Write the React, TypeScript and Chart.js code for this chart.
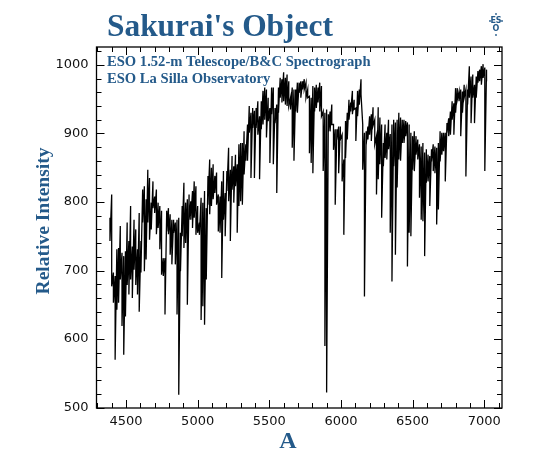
import { useEffect, useRef } from "react"
import Chart from "chart.js/auto"

const wavelengths = [
  4388, 4400, 4412, 4424, 4436, 4448, 4460, 4472, 4484, 4496, 4508, 4520, 4532, 4544, 4556, 4568, 4580, 4592, 4604, 4616,
  4628, 4640, 4652, 4664, 4676, 4688, 4700, 4712, 4724, 4736, 4748, 4760, 4772, 4784, 4796, 4808, 4820, 4832,
  4844, 4856, 4868, 4880, 4892, 4904, 4916, 4928, 4940, 4952, 4964, 4976, 4988, 5000, 5012, 5024, 5036, 5048, 5060, 5072,
  5084, 5096, 5108, 5120, 5132, 5144, 5156, 5168, 5180, 5192, 5204, 5216, 5228, 5240, 5252, 5264, 5276, 5288,
  5300, 5312, 5324, 5336, 5348, 5360, 5372, 5384, 5396, 5408, 5420, 5432, 5444, 5456, 5468, 5480, 5492, 5504, 5516, 5528,
  5540, 5552, 5564, 5576, 5588, 5600, 5612, 5624, 5636, 5648, 5660, 5672, 5684, 5696, 5708, 5720, 5732, 5744,
  5756, 5768, 5780, 5792, 5804, 5816, 5828, 5840, 5852, 5864, 5876, 5888, 5900, 5912, 5924, 5936, 5948, 5960, 5972, 5984,
  5996, 6008, 6020, 6032, 6044, 6056, 6068, 6080, 6092, 6104, 6116, 6128, 6140, 6152, 6164, 6176, 6188, 6200,
  6212, 6224, 6236, 6248, 6260, 6272, 6284, 6296, 6308, 6320, 6332, 6344, 6356, 6368, 6380, 6392, 6404, 6416, 6428, 6440,
  6452, 6464, 6476, 6488, 6500, 6512, 6524, 6536, 6548, 6560, 6572, 6584, 6596, 6608, 6620, 6632, 6644, 6656,
  6668, 6680, 6692, 6704, 6716, 6728, 6740, 6752, 6764, 6776, 6788, 6800, 6812, 6824, 6836, 6848, 6860, 6872, 6884, 6896,
  6908, 6920, 6932, 6944, 6956, 6968, 6980, 6992, 7004, 7016,
]

const upper = [
  777, 811, 697, 692, 731, 733, 765, 726, 721, 728, 770, 743, 794, 735, 774, 760, 731, 784, 743, 818,
  823, 804, 847, 835, 799, 830, 808, 818, 799, 794, 787, 718, 718, 787, 791, 782, 774, 774,
  770, 774, 777, 755, 794, 828, 799, 804, 811, 801, 816, 830, 823, 794, 770, 806, 799, 816, 791, 838,
  862, 850, 855, 838, 843, 811, 808, 830, 845, 813, 845, 879, 847, 867, 852, 869, 855, 884,
  886, 886, 903, 884, 913, 940, 930, 937, 933, 937, 947, 925, 947, 962, 967, 964, 952, 937, 967, 967,
  937, 942, 967, 981, 979, 989, 981, 986, 976, 952, 967, 964, 964, 974, 974, 976, 976, 979,
  974, 964, 954, 952, 969, 967, 971, 967, 974, 969, 932, 930, 935, 928, 932, 942, 913, 906, 906, 910,
  910, 898, 862, 918, 930, 949, 945, 962, 949, 937, 962, 964, 979, 913, 901, 903, 910, 925,
  928, 938, 920, 896, 938, 923, 913, 886, 913, 901, 920, 899, 913, 920, 916, 920, 930, 923, 920, 920,
  918, 916, 913, 901, 896, 903, 896, 891, 884, 881, 886, 872, 877, 869, 867, 877, 884, 881,
  879, 886, 903, 901, 901, 901, 915, 922, 932, 947, 944, 966, 966, 961, 964, 961, 971, 964, 964, 998,
  983, 986, 971, 983, 991, 993, 998, 1001, 996, 993,
]

const lower = [
  743, 677, 653, 570, 643, 653, 687, 619, 577, 633, 679, 665, 687, 660, 701, 679, 665, 640, 697, 770,
  699, 716, 770, 745, 760, 791, 784, 753, 762, 731, 694, 692, 636, 757, 753, 723, 709, 755,
  709, 636, 519, 699, 750, 733, 740, 650, 774, 774, 762, 777, 752, 755, 752, 628, 648, 621, 687, 796,
  782, 794, 804, 813, 796, 757, 755, 689, 774, 750, 816, 801, 743, 818, 799, 823, 755, 794,
  801, 796, 840, 860, 860, 901, 835, 908, 835, 908, 898, 833, 906, 913, 920, 894, 918, 857, 928, 855,
  915, 813, 930, 952, 945, 947, 942, 940, 940, 935, 879, 860, 932, 930, 959, 952, 964, 964,
  952, 952, 871, 857, 842, 932, 937, 945, 932, 925, 845, 590, 522, 903, 903, 913, 876, 796, 891, 842,
  891, 830, 752, 864, 891, 920, 932, 928, 935, 889, 925, 942, 957, 847, 662, 884, 891, 898,
  889, 911, 884, 811, 833, 855, 777, 852, 864, 862, 877, 755, 684, 852, 723, 821, 862, 860, 886, 886,
  896, 706, 755, 750, 847, 845, 869, 862, 806, 774, 772, 721, 828, 830, 794, 859, 845, 842,
  767, 789, 859, 869, 874, 830, 901, 896, 898, 920, 898, 930, 949, 947, 896, 930, 952, 837, 942, 952,
  915, 952, 915, 952, 974, 976, 971, 981, 845, 976,
]

const xMajorTicks = [4500, 5000, 5500, 6000, 6500, 7000]
const xMinorTicks = [
  4300, 4400, 4600, 4700, 4800, 4900, 5100, 5200, 5300, 5400, 5600, 5700, 5800, 5900,
  6100, 6200, 6300, 6400, 6600, 6700, 6800, 6900, 7100,
]
const yMajorTicks = [500, 600, 700, 800, 900, 1000]
const yMinorTicks = [
  520, 540, 560, 580, 620, 640, 660, 680, 720, 740, 760, 780, 820, 840, 860, 880,
  920, 940, 960, 980, 1020,
]

const BLUE = "#245a8a"
const SERIF = '"Liberation Serif", serif'

const spectrum = wavelengths.flatMap((w, i) => [
  { x: w, y: upper[i] },
  { x: w, y: lower[i] },
])

const framePlugin = {
  id: "frame",
  afterDraw(chart: any) {
    const { ctx, chartArea: a, scales } = chart
    ctx.save()
    ctx.strokeStyle = "#000"
    ctx.lineWidth = 1
    ctx.beginPath()
    const xTick = (v: number, len: number) => {
      const px = Math.round(scales.x.getPixelForValue(v)) + 0.5
      ctx.moveTo(px, a.bottom)
      ctx.lineTo(px, a.bottom - len)
      ctx.moveTo(px, a.top)
      ctx.lineTo(px, a.top + len)
    }
    const yTick = (v: number, len: number) => {
      const py = Math.round(scales.y.getPixelForValue(v)) + 0.5
      ctx.moveTo(a.left, py)
      ctx.lineTo(a.left + len, py)
      ctx.moveTo(a.right, py)
      ctx.lineTo(a.right - len, py)
    }
    xMajorTicks.forEach((v) => xTick(v, 8))
    xMinorTicks.forEach((v) => xTick(v, 5))
    yMajorTicks.forEach((v) => yTick(v, 8))
    yMinorTicks.forEach((v) => yTick(v, 5))
    ctx.stroke()
    ctx.lineWidth = 1.3
    ctx.strokeRect(a.left, a.top, a.right - a.left, a.bottom - a.top)

    ctx.fillStyle = BLUE
    ctx.textBaseline = "alphabetic"
    ctx.textAlign = "left"
    ctx.font = `bold 31.4px ${SERIF}`
    ctx.fillText("Sakurai's Object", 107, 36)
    ctx.font = `bold 14.6px ${SERIF}`
    ctx.fillText("ESO 1.52-m Telescope/B&C Spectrograph", 107, 66)
    ctx.fillText("ESO La Silla Observatory", 107, 83)

    ctx.textAlign = "center"
    ctx.font = `bold 24px ${SERIF}`
    ctx.fillText("A", 288, 448)
    ctx.save()
    ctx.translate(49, 221)
    ctx.rotate(-Math.PI / 2)
    ctx.font = `bold 19.5px ${SERIF}`
    ctx.fillText("Relative Intensity", 0, 0)
    ctx.restore()

    // ESO emblem, top right
    ctx.font = "bold 8px \"DejaVu Sans\""
    ctx.fillText("ES", 496, 23)
    ctx.fillText("O", 496, 31)
    ;[[490, 21], [502, 21], [496, 14], [496, 35]].forEach(([dx, dy]) => {
      ctx.beginPath()
      ctx.arc(dx, dy, 0.9, 0, Math.PI * 2)
      ctx.fill()
    })
    ctx.restore()
  },
}

export default function App() {
  const canvasRef = useRef<HTMLCanvasElement>(null)

  useEffect(() => {
    if (!canvasRef.current) return

    const tickFont = { family: '"DejaVu Sans"', size: 13, weight: "400" }

    const chart = new Chart(canvasRef.current, {
      type: "line",
      data: {
        datasets: [
          {
            data: spectrum,
            borderColor: "#000",
            borderWidth: 1.3,
            pointRadius: 0,
            tension: 0,
          },
        ],
      },
      options: {
        responsive: false,
        animation: false,
        layout: { padding: { top: 47, right: 50, left: 0, bottom: 0 } },
        plugins: {
          legend: { display: false },
          tooltip: { enabled: false },
        },
        scales: {
          x: {
            type: "linear",
            min: 4294,
            max: 7124,
            grid: { display: false, drawTicks: false },
            border: { display: false },
            afterFit: (s: any) => {
              s.height = 51
            },
            afterBuildTicks: (s: any) => {
              s.ticks = xMajorTicks.map((value) => ({ value }))
            },
            ticks: {
              autoSkip: false,
              maxRotation: 0,
              padding: 6,
              color: "#111",
              font: tickFont,
              callback: (v: any) => String(v),
            },
          },
          y: {
            min: 499.5,
            max: 1026,
            grid: { display: false, drawTicks: false },
            border: { display: false },
            afterFit: (s: any) => {
              s.width = 96.5
            },
            afterBuildTicks: (s: any) => {
              s.ticks = yMajorTicks.map((value) => ({ value }))
            },
            ticks: {
              autoSkip: false,
              padding: 8,
              color: "#111",
              font: tickFont,
              callback: (v: any) => String(v),
            },
          },
        },
      },
      plugins: [framePlugin],
    })

    return () => {
      chart.destroy()
    }
  }, [])

  return (
    <div style={{ position: "absolute", left: 0, top: 0, background: "#fff" }}>
      <canvas ref={canvasRef} width={552} height={459} style={{ display: "block" }} />
    </div>
  )
}
